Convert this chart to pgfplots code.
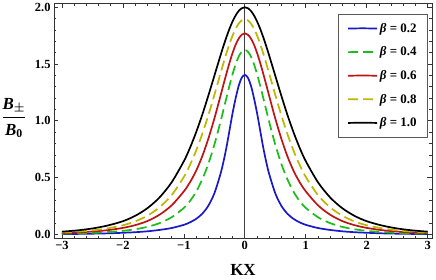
\documentclass[border=0pt]{standalone}
\usepackage{fontspec}
\setmainfont{Liberation Serif}
\usepackage{amsmath}
\usepackage{pgfplots}
\usepackage{pgfplotstable}
\pgfplotsset{compat=1.18}
\definecolor{lineblue}{RGB}{25,25,200}
\definecolor{linegreen}{RGB}{25,190,25}
\definecolor{linered}{RGB}{190,20,20}
\definecolor{lineyellow}{RGB}{190,182,0}

\pgfplotstableread{
x b2 b4 b6 b8 b10
-3.0 0.002 0.005 0.011 0.016 0.023
-2.75 0.003 0.008 0.016 0.023 0.034
-2.5 0.005 0.012 0.024 0.034 0.051
-2.25 0.008 0.019 0.036 0.052 0.077
-2.0 0.013 0.030 0.056 0.079 0.115
-1.8 0.018 0.044 0.080 0.113 0.162
-1.6 0.026 0.065 0.116 0.163 0.229
-1.4 0.038 0.098 0.172 0.237 0.324
-1.2 0.055 0.150 0.255 0.345 0.458
-1.0 0.083 0.232 0.378 0.505 0.644
-0.9 0.105 0.292 0.458 0.610 0.761
-0.8 0.135 0.374 0.558 0.735 0.897
-0.7 0.180 0.482 0.685 0.881 1.050
-0.6 0.250 0.618 0.840 1.046 1.219
-0.5 0.360 0.789 1.019 1.227 1.396
-0.4 0.530 0.989 1.218 1.416 1.574
-0.35 0.640 1.097 1.320 1.509 1.660
-0.3 0.770 1.206 1.419 1.598 1.740
-0.25 0.920 1.313 1.514 1.680 1.813
-0.2 1.070 1.413 1.599 1.752 1.877
-0.15 1.200 1.499 1.671 1.812 1.929
-0.1 1.310 1.567 1.725 1.857 1.968
-0.05 1.380 1.609 1.759 1.885 1.992
0 1.404 1.624 1.771 1.894 2.000
0.05 1.380 1.609 1.759 1.885 1.992
0.1 1.310 1.567 1.725 1.857 1.968
0.15 1.200 1.499 1.671 1.812 1.929
0.2 1.070 1.413 1.599 1.752 1.877
0.25 0.920 1.313 1.514 1.680 1.813
0.3 0.770 1.206 1.419 1.598 1.740
0.35 0.640 1.097 1.320 1.509 1.660
0.4 0.530 0.989 1.218 1.416 1.574
0.5 0.360 0.789 1.019 1.227 1.396
0.6 0.250 0.618 0.840 1.046 1.219
0.7 0.180 0.482 0.685 0.881 1.050
0.8 0.135 0.374 0.558 0.735 0.897
0.9 0.105 0.292 0.458 0.610 0.761
1.0 0.083 0.232 0.378 0.505 0.644
1.2 0.055 0.150 0.255 0.345 0.458
1.4 0.038 0.098 0.172 0.237 0.324
1.6 0.026 0.065 0.116 0.163 0.229
1.8 0.018 0.044 0.080 0.113 0.162
2.0 0.013 0.030 0.056 0.079 0.115
2.25 0.008 0.019 0.036 0.052 0.077
2.5 0.005 0.012 0.024 0.034 0.051
2.75 0.003 0.008 0.016 0.023 0.034
3.0 0.002 0.005 0.011 0.016 0.023
}\datatab

\begin{document}
\begin{tikzpicture}
\begin{axis}[
  at={(0,0)}, anchor=south west,
  scale only axis, width=378bp, height=235bp,
  xmin=-3.13, xmax=3.07, ymin=-0.033, ymax=2.038,
  xtick={-3,-2,-1,0,1,2,3},
  xticklabels={−3,−2,−1,0,1,2,3},
  ytick={0,0.5,1,1.5,2},
  yticklabels={0.0,0.5,1.0,1.5,2.0},
  extra x ticks={0},
  extra x tick labels={},
  extra x tick style={grid=major, major grid style={black!75, line width=0.9bp}, major tick length=0pt},
  minor x tick num=4, minor y tick num=4,
  tick align=inside,
  major tick length=4.5bp, minor tick length=2.5bp,
  ticklabel style={font=\fontsize{12.5}{14}\selectfont\bfseries},
  xlabel={KX},
  xlabel style={font=\fontsize{17}{20}\selectfont\bfseries, at={(axis description cs:0.5,-0.136)}, anchor=center},
  ylabel={$\dfrac{\text{\bfseries\itshape B}_{\pm}}{\text{\bfseries\itshape B}_{\text{\bfseries 0}}}$},
  ylabel style={rotate=-90, font=\fontsize{17}{20}\selectfont\boldmath, at={(axis description cs:-0.106,0.511)}, anchor=center},
  axis line style={line width=0.9bp, black!80},
  major tick style={line width=0.7bp, black!80},
  minor tick style={line width=0.6bp, black!80},
  legend style={at={(axis description cs:0.989,0.953)}, anchor=north east,
    name=leg, draw=none, fill=white,
    font=\fontsize{13}{15}\selectfont\bfseries,
    row sep=9bp, inner xsep=9bp, inner ysep=7bp},
  legend cell align=left,
  legend image code/.code={\draw[#1, line width=1.7bp] (0bp,0bp) -- (14.5bp,0.25bp) -- (29bp,0bp);},
]
\addplot[color=lineblue, line width=1.7bp, smooth] table[x=x, y=b2] {\datatab};
\addplot[color=linegreen, line width=1.7bp, dash pattern=on 10bp off 5bp, smooth] table[x=x, y=b4] {\datatab};
\addplot[color=linered, line width=1.7bp, smooth] table[x=x, y=b6] {\datatab};
\addplot[color=lineyellow, line width=1.7bp, dash pattern=on 10bp off 5bp, smooth] table[x=x, y=b8] {\datatab};
\addplot[color=black, line width=1.7bp, smooth] table[x=x, y=b10] {\datatab};
\legend{{\itshape β} = 0.2, {\itshape β} = 0.4, {\itshape β} = 0.6, {\itshape β} = 0.8, {\itshape β} = 1.0}
\end{axis}
\draw[black!65, line width=0.9bp] (leg.south west) rectangle (leg.north east);
\pgfresetboundingbox
\path[use as bounding box] (-54bp,-42bp) rectangle (382bp,238bp);
\end{tikzpicture}
\end{document}
